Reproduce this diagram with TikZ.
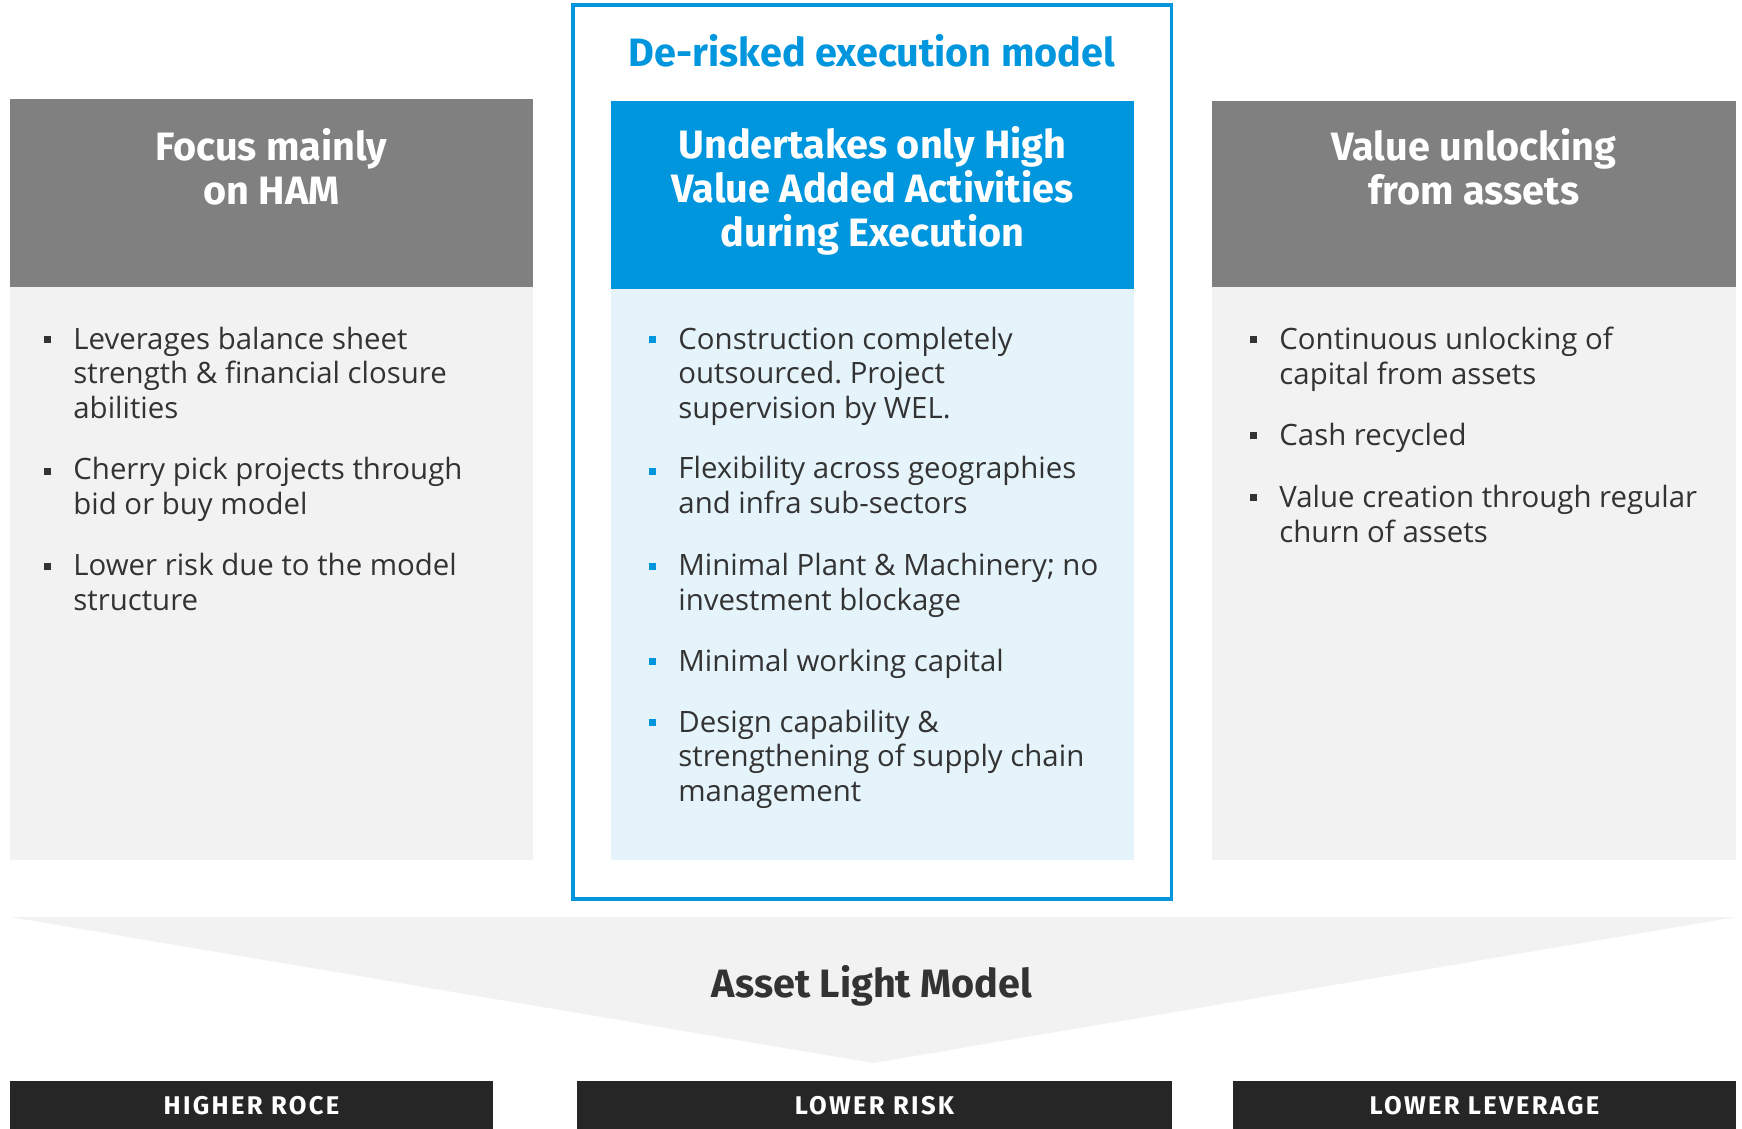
\documentclass[tikz,border=0pt]{standalone}
\usepackage{fontspec}
\setmainfont{Open Sans}
\newfontfamily\headfont{Fira Sans}
\newfontfamily\barfont{Fira Sans}[LetterSpace=9]
\usetikzlibrary{calc}
\frenchspacing

\definecolor{hamgray}{HTML}{808080}
\definecolor{paneg}{HTML}{F2F2F2}
\definecolor{welblue}{HTML}{0096DE}
\definecolor{paneblue}{HTML}{E5F3FB}
\definecolor{txt}{HTML}{333333}
\definecolor{bardark}{HTML}{262626}

\tikzset{
  head/.style={text=white, inner sep=0pt, align=center, anchor=base,
    font=\headfont\bfseries\fontsize{19.8}{22}\selectfont},
  item/.style={text=txt, inner sep=0pt, align=left, anchor=base west,
    font=\fontsize{14.7}{17.25}\selectfont},
  bartext/.style={text=white, inner sep=0pt, anchor=base,
    font=\barfont\bfseries\fontsize{12.8}{14}\selectfont}
}

\begin{document}
\begin{tikzpicture}[x=0.5pt,y=-0.5pt]

\useasboundingbox (0,0) rectangle (1742,1129);

% Column edges
\def\la{10}   \def\lb{533}
\def\ma{611}  \def\mb{1134}
\def\ra{1212} \def\rb{1736}

% Left column: HAM
% (multi-line nodes sit on their last baseline)
\fill[hamgray] (\la,99) rectangle (\lb,287);
\fill[paneg] (\la,287) rectangle (\lb,860);
\node[head] (hamHead) at ({(\la+\lb)/2},205) {Focus mainly\\on HAM};
\foreach \y/\z/\t in {349/418/{Leverages balance sheet\\strength \& financial closure\\abilities},
                      481/514/{Cherry pick projects through\\bid or buy model},
                      576/610/{Lower risk due to the model\\structure}}{
  \fill[txt] (44,\y-13.5) rectangle ++(7,7);
  \node[item] (hamItem\y) at (73,\z) {\t};
}

% Centre column: execution model
\draw[welblue, line width=1.75pt] (573,5) rectangle (1171.5,899);
\node[head, text=welblue] (execTitle) at (872,67) {De-risked execution model};
\fill[welblue] (\ma,101) rectangle (\mb,289);
\fill[paneblue] (\ma,289) rectangle (\mb,860);
\node[head] (execHead) at ({(\ma+\mb)/2},247) {Undertakes only High\\Value Added Activities\\during Execution};
\foreach \y/\z/\t in {349/418/{Construction completely\\outsourced. Project\\supervision by WEL.},
                      481/513/{Flexibility across geographies\\and infra sub-sectors},
                      576/610/{Minimal Plant \& Machinery; no\\investment blockage},
                      671/671/{Minimal working capital},
                      732/801/{Design capability \&\\strengthening of supply chain\\management}}{
  \fill[welblue] (649,\y-13.5) rectangle ++(7,7);
  \node[item] (execItem\y) at (678,\z) {\t};
}

% Right column: value unlocking
\fill[hamgray] (\ra,101) rectangle (\rb,287);
\fill[paneg] (\ra,287) rectangle (\rb,860);
\node[head] (unlockHead) at ({(\ra+\rb)/2},205) {Value unlocking\\from assets};
\foreach \y/\z/\t in {349/384/{Continuous unlocking of\\capital from assets},
                      445/445/{Cash recycled},
                      507/542/{Value creation through regular\\churn of assets}}{
  \fill[txt] (1250,\y-13.5) rectangle ++(7,7);
  \node[item] (unlockItem\y) at (1279,\z) {\t};
}

% Funnel
\fill[paneg] (10,917) -- (1736,917) -- (873,1063) -- cycle;
\node[head, text=txt] (assetLight) at (872,997) {Asset Light Model};

% Outcome bars
\fill[bardark] (10,1081) rectangle (493,1129);
\fill[bardark] (577,1081) rectangle (1172,1129);
\fill[bardark] (1233,1081) rectangle (1736,1129);
\node[bartext] (roce) at (251.5,1114) {HIGHER ROCE};
\node[bartext] (risk) at (874.5,1114) {LOWER RISK};
\node[bartext] (leverage) at (1484.5,1114) {LOWER LEVERAGE};

\end{tikzpicture}
\end{document}
